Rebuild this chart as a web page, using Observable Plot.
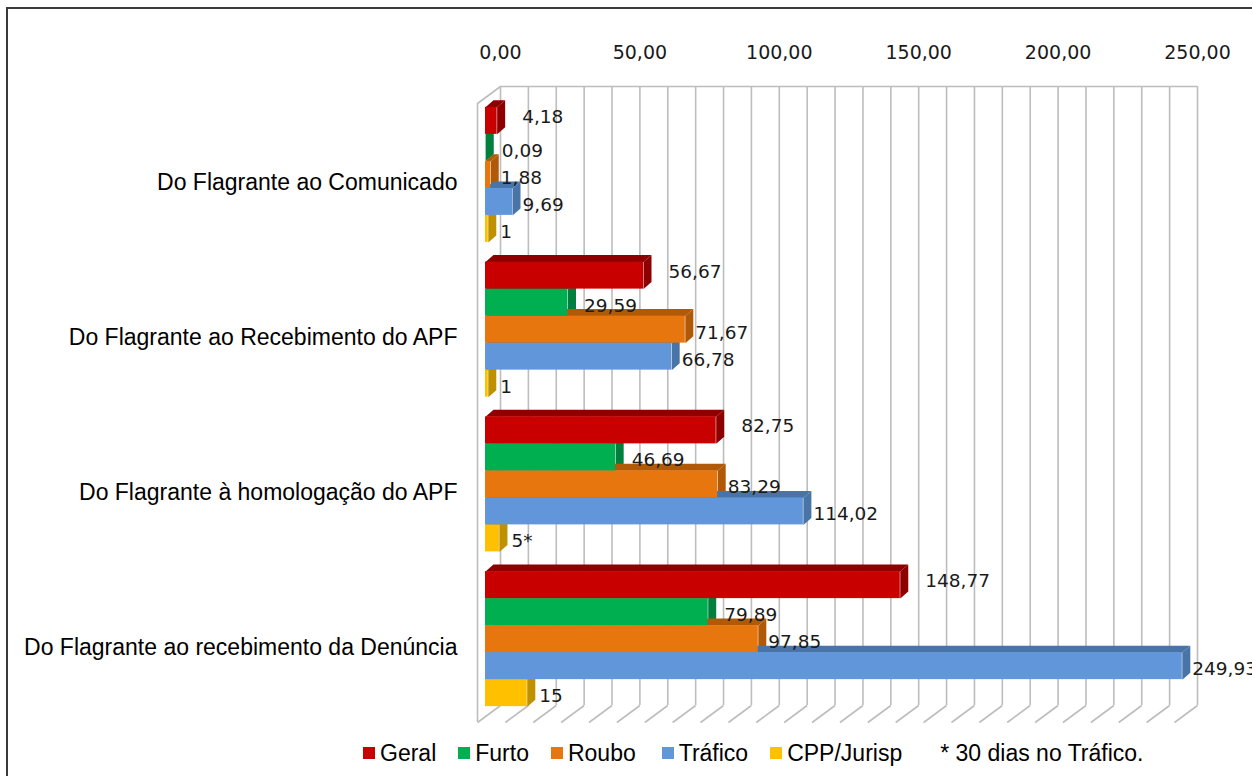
<!DOCTYPE html>
<html><head><meta charset="utf-8">
<script src="https://cdn.jsdelivr.net/npm/d3@7"></script>
<script src="https://cdn.jsdelivr.net/npm/@observablehq/plot@0.6"></script>
<style>
html,body{margin:0;padding:0;background:#fff;overflow:hidden;width:1252px;height:776px;}
#frame{position:absolute;left:6px;top:7px;width:1300px;height:800px;border:2px solid #3a3a3a;box-sizing:border-box;}
#chart{position:absolute;left:0;top:0;}
#legend{position:absolute;left:363px;top:740px;height:26px;display:flex;align-items:center;font-family:"Liberation Sans",Arial,sans-serif;font-size:23px;color:#000;white-space:nowrap;}
.item{display:flex;align-items:center;margin-right:22px;}
.item.wide{margin-right:26px;}
.sw{width:12px;height:12px;display:inline-block;margin-right:5px;}
.note{margin-left:16px;}
</style></head><body>
<div id="frame"></div>
<div id="chart"></div>
<div id="legend"></div>
<script>
// ---- data ----
const categories = [
  "Do Flagrante ao Comunicado",
  "Do Flagrante ao Recebimento do APF",
  "Do Flagrante à homologação do APF",
  "Do Flagrante ao recebimento da Denúncia"
];
const seriesNames = ["Geral", "Furto", "Roubo", "Tráfico", "CPP/Jurisp"];
const geral   = [4.18, 56.67, 82.75, 148.77];
const furto   = [0.09, 29.59, 46.69, 79.89];
const roubo   = [1.88, 71.67, 83.29, 97.85];
const trafico = [9.69, 66.78, 114.02, 249.93];
const cpp     = [1, 1, 5, 15];
const cppNote = ["", "", "*", ""];
const xTicks  = [0, 50, 100, 150, 200, 250];
const footNote = "* 30 dias no Tráfico.";

// ---- styles ----
const frontColors = ["#C80000", "#00B050", "#E8760F", "#6197DA", "#FFC000"];
const shadeColors = ["#8E0000", "#00803C", "#B05A08", "#4874A8", "#BF9000"];
const labelDx = [25, 16, 10, 10, 12];
const labelDy = [-4, 3, 3, 3, 3];

// ---- layout ----
const W = 1252, H = 736;
const xR = [485, 1182], yR = [97, 716];
const groupStep = 5.73, groupPad = (groupStep - 5) / 2;
const T = categories.length * groupStep;
const pxX = (xR[1] - xR[0]) / 250;
const pxY = (yR[1] - yR[0]) / T;
const back = {dx: 15, dy: -11}, wall = {dx: -8, dy: 6}, depth = {dx: 8, dy: 7};
const dX = depth.dx / pxX, dY = depth.dy / pxY;

const seriesVals = [geral, furto, roubo, trafico, cpp];
const fmt2 = v => v.toFixed(2).replace(".", ",");
const rows = [];
categories.forEach((c, g) => {
  seriesVals.forEach((vals, s) => {
    const y1 = g * groupStep + groupPad + s;
    const v = vals[g];
    rows.push({
      id: g * 10 + s, g, s, cat: c, series: seriesNames[s], v, y1, y2: y1 + 1,
      label: s === 4 ? String(v) + cppNote[g] : fmt2(v),
      front: frontColors[s], shade: shadeColors[s]
    });
  });
});
// draw lower bars first within each group so the upper bar covers their faces
const order = rows.slice().sort((a, b) => a.g - b.g || b.s - a.s);
const sidePts = order.flatMap(d => [
  {id: d.id, c: d.shade, x: d.v, y: d.y2},
  {id: d.id, c: d.shade, x: d.v + dX, y: d.y2 - dY},
  {id: d.id, c: d.shade, x: d.v + dX, y: d.y1 - dY},
  {id: d.id, c: d.shade, x: d.v, y: d.y1}
]);
const topPts = order.flatMap(d => [
  {id: d.id, c: d.shade, x: 0, y: d.y1},
  {id: d.id, c: d.shade, x: d.v, y: d.y1},
  {id: d.id, c: d.shade, x: d.v + dX, y: d.y1 - dY},
  {id: d.id, c: d.shade, x: dX, y: d.y1 - dY}
]);
const grid = d3.range(0, 251, 10);
const centers = categories.map((c, g) => g * groupStep + groupStep / 2);

const gridColor = "#bdbdbd";
const marks = [
  Plot.ruleX(grid, {dx: back.dx, dy: back.dy, stroke: gridColor, strokeWidth: 1.6}),
  Plot.ruleY([0], {x1: 0, x2: 250, dx: back.dx, dy: back.dy, stroke: gridColor, strokeWidth: 1.6}),
  Plot.ruleX([0], {dx: wall.dx, dy: wall.dy, stroke: gridColor, strokeWidth: 1.6}),
  Plot.link([0], {x1: d => d + wall.dx / pxX, y1: wall.dy / pxY, x2: d => d + back.dx / pxX, y2: back.dy / pxY, stroke: gridColor, strokeWidth: 1.6}),
  Plot.link(grid, {x1: d => d + wall.dx / pxX, y1: T + wall.dy / pxY, x2: d => d + back.dx / pxX, y2: T + back.dy / pxY, stroke: gridColor, strokeWidth: 1.6}),
  Plot.axisX(xTicks, {anchor: "top", tickSize: 0, tickPadding: 28, dx: back.dx, dy: back.dy,
    tickFormat: fmt2, fontSize: 19, fontFamily: "DejaVu Sans", fill: "#1a1a1a", label: null}),
  Plot.axisY(centers, {anchor: "left", tickSize: 0, tickPadding: 28, dy: 8,
    tickFormat: d => categories[Math.round((d - groupStep / 2) / groupStep)],
    fontSize: 23, fontFamily: "Liberation Sans", fill: "#000", label: null}),
  Plot.line(sidePts, {x: "x", y: "y", z: "id", fill: "c", stroke: "none", curve: "linear-closed"}),
  Plot.line(topPts, {x: "x", y: "y", z: "id", fill: "c", stroke: "none", curve: "linear-closed"}),
  Plot.rect(order, {x1: () => 0, x2: "v", y1: "y1", y2: "y2", fill: "front"}),
  ...seriesNames.map((name, s) => Plot.text(rows.filter(d => d.s === s), {
    x: "v", y: d => (d.y1 + d.y2) / 2, text: "label", textAnchor: "start",
    dx: labelDx[s], dy: labelDy[s], fontSize: 18.5, fontFamily: "DejaVu Sans", fill: "#1a1a1a"
  }))
];

const chart = Plot.plot({
  width: W, height: H,
  marginLeft: xR[0], marginRight: W - xR[1], marginTop: yR[0], marginBottom: H - yR[1],
  x: {domain: [0, 250], range: xR, axis: null},
  y: {domain: [0, T], range: yR, axis: null},
  color: {type: "identity"},
  style: {background: "transparent", overflow: "visible", fontFamily: "DejaVu Sans"},
  marks
});
document.getElementById("chart").appendChild(chart);

// legend (HTML, below the svg)
const legend = document.getElementById("legend");
seriesNames.forEach((name, s) => {
  const it = document.createElement("span");
  it.className = s === 2 ? "item wide" : "item";
  it.innerHTML = `<span class="sw" style="background:${frontColors[s]}"></span><span>${name}</span>`;
  legend.appendChild(it);
});
const nt = document.createElement("span");
nt.className = "note";
nt.textContent = footNote;
legend.appendChild(nt);
</script>
</body></html>
